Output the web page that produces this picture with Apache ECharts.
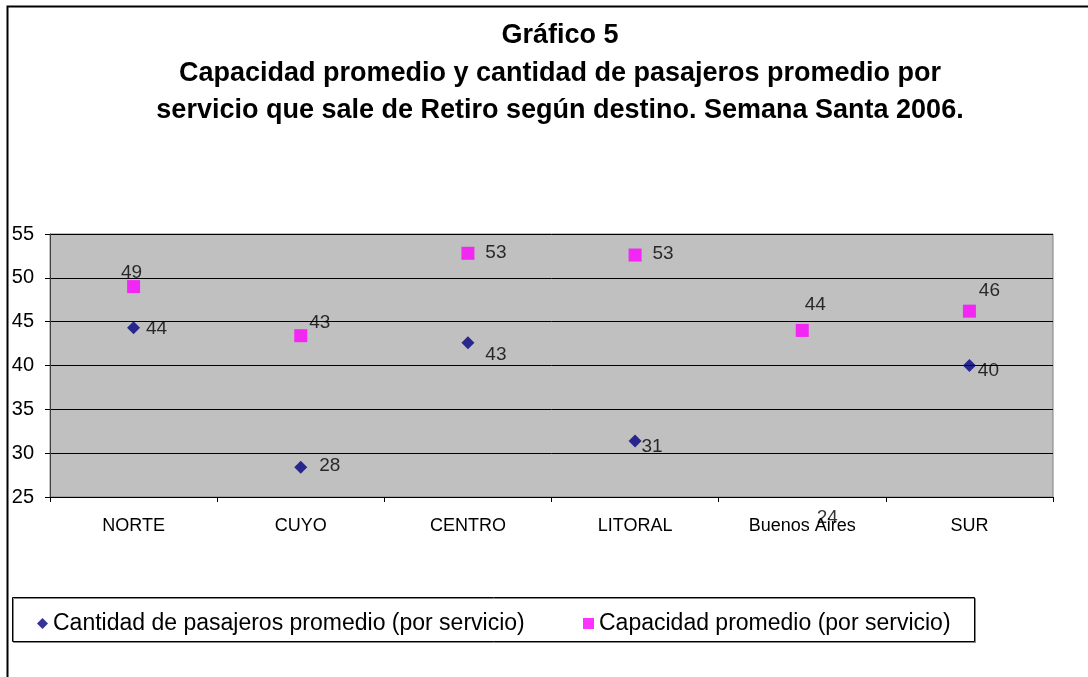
<!DOCTYPE html>
<html>
<head>
<meta charset="utf-8">
<title>Gráfico 5</title>
<script src="https://cdn.jsdelivr.net/npm/echarts@6/dist/echarts.min.js"></script>
<style>
  html, body { margin: 0; padding: 0; background: #fff; }
  #main { width: 1088px; height: 677px; }
</style>
</head>
<body>
<div id="main"></div>
<script>
// datos
var destinos = ['NORTE', 'CUYO', 'CENTRO', 'LITORAL', 'Buenos Aires', 'SUR'];
var pasajeros = [44.3, 28.4, 42.6, 31.4, 24.0, 40.0];
var capacidad = [49.0, 43.4, 52.8, 52.6, 44.0, 46.2];
var yTicks = [25, 30, 35, 40, 45, 50, 55];

var nombrePas = 'Cantidad de pasajeros promedio (por servicio)';
var nombreCap = 'Capacidad promedio (por servicio)';

// desplazamiento de cada etiqueta respecto al punto (como quedó en Excel)
var offPas = [[23, 1], [29, -1], [28, 12], [17, 6], [25, 12], [19, 5]];
var offCap = [[-2, -14], [19, -13], [28, -1], [28, -1], [13, -26], [20, -20]];

var FONT = '"Liberation Sans", Arial, sans-serif';
var yMin = yTicks[0], yMax = yTicks[yTicks.length - 1];

function armar(vals, offs) {
  return vals.map(function (v, i) {
    var item = {
      value: v,
      label: { offset: offs[i] }
    };
    // fuera de escala: Excel no dibuja el punto, solo el rótulo
    if (v < yMin || v > yMax) item.symbolSize = 0;
    return item;
  });
}

var myChart = echarts.init(document.getElementById('main'));

var etiqueta = {
  show: true,
  position: 'inside',
  color: '#000',
  fontFamily: FONT,
  fontSize: 19,
  formatter: function (p) { return Math.round(p.value); }
};

function linea(txt, y) {
  return { type: 'text', x: 560, y: y,
    style: { text: txt, fontFamily: FONT, fontWeight: 'bold', fontSize: 27, fill: '#000', align: 'center', verticalAlign: 'middle' } };
}

var option = {
  animation: false,
  backgroundColor: '#fff',
  textStyle: { fontFamily: FONT },
  graphic: [
    { type: 'rect', shape: { x: 7.5, y: 6.5, width: 1200, height: 800 },
      style: { fill: 'none', stroke: '#000', lineWidth: 2 }, z: -10 },
    { type: 'rect', shape: { x: 12.5, y: 597.5, width: 962, height: 44 },
      style: { fill: '#fff', stroke: '#000', lineWidth: 1, shadowColor: '#888', shadowOffsetX: 1, shadowOffsetY: 1 }, z: -5 },
    linea('Gráfico 5', 36),
    linea('Capacidad promedio y cantidad de pasajeros promedio por', 74),
    linea('servicio que sale de Retiro según destino. Semana Santa 2006.', 111)
  ],
  legend: [
    { data: [{ name: nombrePas, icon: 'diamond' }], left: 32, top: 607, itemWidth: 11, itemHeight: 11, itemGap: 8,
      textStyle: { fontFamily: FONT, fontSize: 23, color: '#000' } },
    { data: [{ name: nombreCap, icon: 'rect' }], left: 578, top: 607, itemWidth: 11, itemHeight: 11,
      textStyle: { fontFamily: FONT, fontSize: 23, color: '#000' } }
  ],
  grid: {
    left: 50, right: 35, top: 234, bottom: 180,
    show: true, backgroundColor: '#c0c0c0', borderColor: '#808080', borderWidth: 1
  },
  xAxis: {
    type: 'category',
    data: destinos,
    boundaryGap: true,
    axisLine: { lineStyle: { color: '#000', width: 1 } },
    axisTick: { show: true, alignWithLabel: false, length: 5, lineStyle: { color: '#000' } },
    axisLabel: { color: '#000', fontFamily: FONT, fontSize: 18, margin: 20 },
    splitLine: { show: false }
  },
  yAxis: {
    type: 'value',
    min: yMin, max: yMax, interval: 5,
    axisLine: { show: true, lineStyle: { color: '#404040', width: 1 } },
    axisTick: { show: true, length: 5, lineStyle: { color: '#000' } },
    axisLabel: { color: '#000', fontFamily: FONT, fontSize: 20, margin: 16 },
    splitLine: { show: true, lineStyle: { color: '#000', width: 1 } }
  },
  series: [
    {
      name: nombrePas, type: 'scatter', symbol: 'diamond', symbolSize: 13,
      clip: false,
      itemStyle: { color: '#000080' },
      label: etiqueta,
      data: armar(pasajeros, offPas)
    },
    {
      name: nombreCap, type: 'scatter', symbol: 'rect', symbolSize: 13,
      clip: false,
      itemStyle: { color: '#ff00ff' },
      label: etiqueta,
      data: armar(capacidad, offCap)
    }
  ]
};

myChart.setOption(option);
</script>
</body>
</html>
